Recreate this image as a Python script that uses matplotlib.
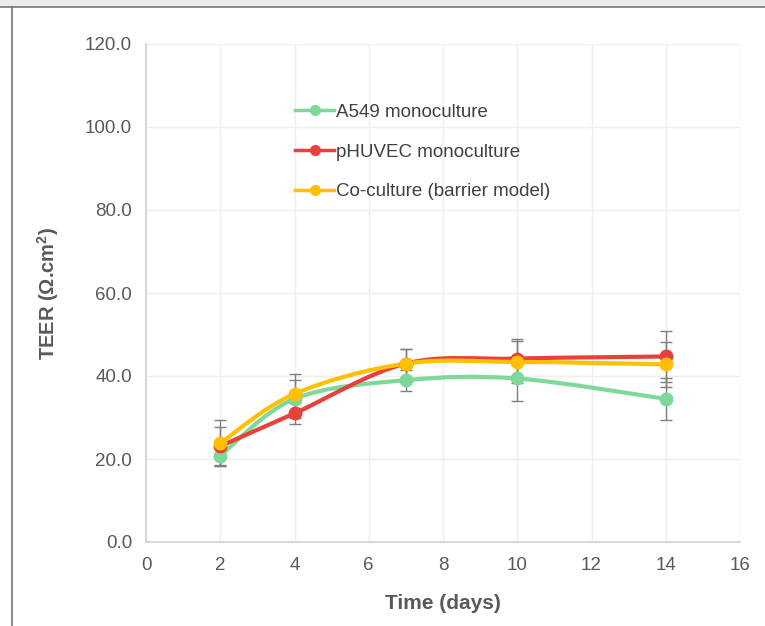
import numpy as np
import matplotlib.pyplot as plt
from matplotlib.path import Path
from matplotlib.patches import PathPatch, Rectangle
from matplotlib.lines import Line2D

plt.rcParams['font.family'] = ['Liberation Sans', 'DejaVu Sans']

days = [2, 4, 7, 10, 14]

a549 = [20.8, 34.5, 39.0, 39.4, 34.5]
a549_err = [2.5, 4.5, 2.5, 5.4, 5.1]

phuvec = [23.1, 31.0, 43.0, 44.2, 44.7]
phuvec_err = [4.5, 2.6, 3.4, 4.6, 6.1]

coculture = [23.8, 35.7, 43.0, 43.4, 42.8]
coculture_err = [5.6, 4.9, 3.4, 5.1, 5.5]

labels = ['A549 monoculture', 'pHUVEC monoculture', 'Co-culture (barrier model)']
colors = ['#7dd89a', '#e8403a', '#ffc000']


def smooth_path(x, y, tension=1 / 6):
    # Excel-like smoothed line: cubic bezier segments through the points
    x = np.asarray(x, float)
    y = np.asarray(y, float)
    n = len(x)
    verts = [(x[0], y[0])]
    codes = [Path.MOVETO]
    for i in range(n - 1):
        p0 = (x[max(i - 1, 0)], y[max(i - 1, 0)])
        p1 = (x[i], y[i])
        p2 = (x[i + 1], y[i + 1])
        p3 = (x[min(i + 2, n - 1)], y[min(i + 2, n - 1)])
        c1 = (p1[0] + (p2[0] - p0[0]) * tension, p1[1] + (p2[1] - p0[1]) * tension)
        c2 = (p2[0] - (p3[0] - p1[0]) * tension, p2[1] - (p3[1] - p1[1]) * tension)
        verts += [c1, c2, p2]
        codes += [Path.CURVE4] * 3
    return Path(verts, codes)


fig = plt.figure(figsize=(7.65, 6.26), dpi=100)
ax = fig.add_axes([146 / 765, 1 - 542 / 626, (740 - 146) / 765, (542 - 44) / 626])

# page decoration
fig.patches.append(Rectangle((0, 1 - 7 / 626), 1, 7 / 626, transform=fig.transFigure,
                             facecolor='#ececec', edgecolor='none'))
fig.lines.append(Line2D([0, 1], [1 - 7 / 626] * 2, transform=fig.transFigure, color='#777777', lw=1.2))
fig.lines.append(Line2D([12 / 765] * 2, [0, 1 - 7 / 626], transform=fig.transFigure, color='#777777', lw=1.2))

series = [(a549, a549_err), (phuvec, phuvec_err), (coculture, coculture_err)]
for (vals, errs), lab, col in zip(series, labels, colors):
    ax.errorbar(days, vals, yerr=errs, fmt='none', ecolor='#7f7f7f', elinewidth=1.0,
                capsize=4.5, capthick=1.0, zorder=2)
for (vals, errs), lab, col in zip(series, labels, colors):
    ax.add_patch(PathPatch(smooth_path(days, vals), facecolor='none', edgecolor=col,
                           lw=3, capstyle='round', joinstyle='round', zorder=3))
    ax.plot(days, vals, 'o', color=col, ms=9, zorder=4)

handles = [Line2D([], [], color=c, lw=2.5, marker='o', ms=7) for c in colors]
ax.legend(handles, labels, loc='upper left', bbox_to_anchor=(0.238, 0.895), frameon=False,
          fontsize=13.5, labelspacing=1.2, handlelength=2.1, handletextpad=0.1,
          borderaxespad=0, labelcolor='#404040')

ax.set_xlim(0, 16)
ax.set_ylim(0, 120)
ax.set_xticks(range(0, 17, 2))
ax.set_yticks(range(0, 121, 20))
ax.set_yticklabels([f'{v:.1f}' for v in range(0, 121, 20)])
ax.grid(True, color='#efefef', lw=1)
ax.set_axisbelow(True)
for s in ['top', 'right']:
    ax.spines[s].set_visible(False)
for s in ['left', 'bottom']:
    ax.spines[s].set_color('#d0d0d0')
    ax.spines[s].set_linewidth(1.2)
ax.tick_params(length=0, labelsize=13.5, labelcolor='#595959', pad=11)
ax.tick_params(axis='y', pad=10)

ax.set_xlabel('Time (days)', fontsize=15, fontweight='bold', color='#595959', labelpad=14)
ax.set_ylabel('TEER (Ω.cm$^\\mathregular{2}$)', fontsize=14.5, fontweight='bold', color='#595959',
              labelpad=17)

fig.savefig('out.png', dpi=100)
